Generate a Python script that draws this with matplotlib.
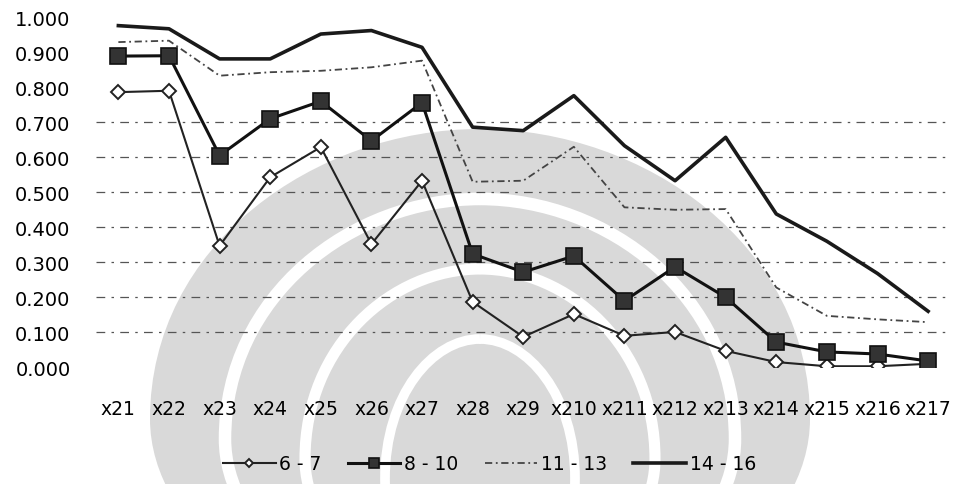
import numpy as np
import matplotlib
matplotlib.use("Agg")
import matplotlib.pyplot as plt
from matplotlib.path import Path
from matplotlib.patches import PathPatch

# categories on the x axis
labels = ["x21", "x22", "x23", "x24", "x25", "x26", "x27", "x28", "x29",
          "x210", "x211", "x212", "x213", "x214", "x215", "x216", "x217"]

# one list per age group
age_6_7 = [0.786, 0.790, 0.347, 0.543, 0.629, 0.352, 0.533, 0.187, 0.087,
           0.152, 0.090, 0.101, 0.047, 0.015, 0.003, 0.003, 0.010]
age_8_10 = [0.889, 0.890, 0.605, 0.710, 0.760, 0.647, 0.756, 0.324, 0.272,
            0.318, 0.190, 0.287, 0.200, 0.072, 0.044, 0.038, 0.018]
age_11_13 = [0.929, 0.933, 0.833, 0.843, 0.847, 0.857, 0.876, 0.530, 0.533,
             0.630, 0.457, 0.450, 0.452, 0.228, 0.147, 0.137, 0.129]
age_14_16 = [0.976, 0.967, 0.881, 0.881, 0.952, 0.962, 0.914, 0.686, 0.676,
             0.776, 0.633, 0.533, 0.657, 0.438, 0.360, 0.268, 0.160]

yticks = [0.0, 0.1, 0.2, 0.3, 0.4, 0.5, 0.6, 0.7, 0.8, 0.9, 1.0]
# only these gridlines survived the scan
grid_vals = [0.1, 0.2, 0.3, 0.4, 0.5, 0.6, 0.7]


def onion(cx, top, r, ymid, bottom):
    # rough dome outline for the watermark (pixel coords, y down)
    h = ymid - top
    verts = [(cx, top),
             (cx + 0.5 * r, top), (cx + r, top + 0.4 * h), (cx + r, ymid),
             (cx + r, ymid + 0.5 * (bottom - ymid)), (cx + 0.6 * r, bottom), (cx, bottom),
             (cx - 0.6 * r, bottom), (cx - r, ymid + 0.5 * (bottom - ymid)), (cx - r, ymid),
             (cx - r, top + 0.4 * h), (cx - 0.5 * r, top), (cx, top)]
    codes = [Path.MOVETO] + [Path.CURVE4] * 12
    return Path(verts, codes)


fig = plt.figure(figsize=(9.56, 4.85), dpi=100)

# faint university watermark behind the chart
bg = fig.add_axes([0, 0, 1, 1], zorder=0)
bg.set_xlim(0, 956)
bg.set_ylim(485, 0)
bg.axis("off")
bg.add_patch(PathPatch(onion(480, 130, 330, 420, 640), fc="#d9d9d9", ec="none"))
bg.add_patch(PathPatch(onion(480, 200, 255, 440, 620), fc="none", ec="white", lw=9))
bg.add_patch(PathPatch(onion(480, 270, 175, 460, 600), fc="none", ec="white", lw=8))
bg.add_patch(PathPatch(onion(480, 340, 95, 480, 590), fc="none", ec="white", lw=7))

ax = fig.add_axes([0.100, 0.2406, 0.892, 0.7218], zorder=1)
ax.patch.set_alpha(0)
x = np.arange(len(labels))

ax.plot(x, age_6_7, color="#222222", lw=1.5, marker="D", ms=7,
        mfc="white", mec="#222222", mew=1.4, label="6 - 7", zorder=4)
ax.plot(x, age_8_10, color="#111111", lw=2.2, marker="s", ms=11,
        mfc="#333333", mec="#111111", mew=1.2, label="8 - 10", zorder=5)
ax.plot(x, age_11_13, color="#444444", lw=1.3, ls=(0, (4, 2, 1, 2)),
        label="11 - 13", zorder=3)
ax.plot(x, age_14_16, color="#1a1a1a", lw=2.6, label="14 - 16", zorder=3)

ax.set_xlim(-0.45, len(labels) - 0.6)
ax.set_ylim(0, 1.0)
ax.set_yticks(yticks)
ax.set_yticklabels([f"{v:.3f}" for v in yticks], fontsize=14)
ax.set_xticks(x)
ax.set_xticklabels(labels, fontsize=13.5)
ax.tick_params(axis="y", length=0, pad=18)
ax.tick_params(axis="x", length=0, pad=23)
for g in grid_vals:
    ax.axhline(g, color="#555555", lw=0.9, ls=(0, (7, 5, 2, 5)), zorder=1)
for s in ax.spines.values():
    s.set_visible(False)

fig.legend(loc="center", bbox_to_anchor=(0.512, 0.042), ncol=4, frameon=False,
           fontsize=13.5, handlelength=2.8, columnspacing=1.4, handletextpad=0.2,
           markerscale=0.65)

fig.savefig("out.png", dpi=100)
